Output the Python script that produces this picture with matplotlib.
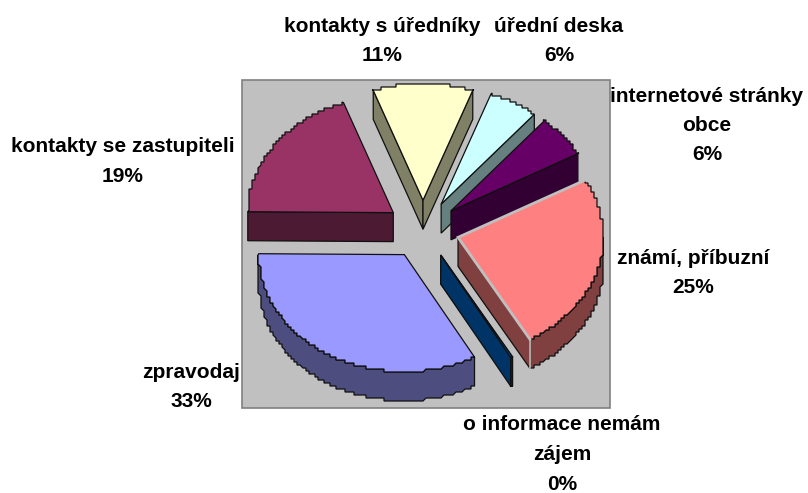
"""
Exploded 3D style pie chart: where people get their information about the municipality.
"""

import numpy as np
import matplotlib
matplotlib.use("Agg")
import matplotlib.pyplot as plt
from matplotlib.patches import Polygon, Rectangle

# Slices run clockwise, the first one starts just left of 12 o'clock
names = ["kontakty s úředníky", "úřední deska", "internetové stránky\nobce",
         "známí, příbuzní", "o informace nemám\nzájem", "zpravodaj",
         "kontakty se zastupiteli"]
values = [11.1, 5.5, 5.8, 24.9, 0.2, 33.1, 19.3]
start_angle = 340.0

top_colors = ["#FFFFCC", "#CCFFFF", "#660066", "#FF8080", "#0066CC", "#9999FF", "#993366"]
side_colors = ["#808066", "#668080", "#330033", "#804040", "#003366", "#4D4D80", "#4D1A33"]
halo_slices = ["známí, příbuzní"]

# Label centres in pixels (x, y of first line)
label_pos = [(382, 26), (559, 26), (707, 96), (693, 258), (562, 425), (191, 372), (123, 147)]

CX, CY = 423, 229.5    # pie centre
RX, RY = 145.5, 117    # ellipse radii
DEPTH = 29             # height of the extrusion
EXPLODE = 0.25
STEP = 3               # the arcs of the original are stair-stepped
EDGE = "#101010"
BACK = "#C0C0C0"


def to_xy(angle, r=1.0):
    """Clockwise angle from 12 o'clock to offset in pixels."""
    t = np.radians(angle)
    return RX * r * np.sin(t), -RY * r * np.cos(t)


def cross(a, b):
    return a[0] * b[1] - a[1] * b[0]


def draw_slice(ax, a0, a1, top, side, halo=False):
    mid = (a0 + a1) / 2
    ox, oy = to_xy(mid, EXPLODE)
    apex = np.array([CX + ox, CY + oy])

    angles = np.linspace(a0, a1, 400)
    x, y = to_xy(angles)
    arc = np.column_stack([x + apex[0], y + apex[1]])
    # snap the middle of the arc to a coarse grid for the jagged edge
    arc[1:-1] = np.round(arc[1:-1] / STEP) * STEP
    down = np.array([0, DEPTH])
    inside = arc[200] - apex

    style = dict(edgecolor=EDGE, linewidth=0.9, joinstyle="miter")
    # radial faces, only those turned to the viewer
    for end in (arc[0], arc[-1]):
        d = end - apex
        if cross(d, down) * cross(d, inside) < 0:
            face = [apex, end, end + down, apex + down]
            ax.add_patch(Polygon(face, closed=True, facecolor=side, **style))
    # outer wall, only the front half of the ellipse shows
    front = np.cos(np.radians(angles)) < 0
    if front.any():
        part = arc[front]
        wall = np.vstack([part, part[::-1] + down])
        ax.add_patch(Polygon(wall, closed=True, facecolor=side, **style))
    if halo:
        ax.plot([arc[0][0], apex[0], arc[-1][0]], [arc[0][1], apex[1], arc[-1][1]],
                color=BACK, linewidth=2.0, solid_joinstyle="miter")
        ax.plot([arc[-1][0], arc[-1][0]], [arc[-1][1], arc[-1][1] + DEPTH],
                color=BACK, linewidth=1.2)
    ax.add_patch(Polygon(np.vstack([apex, arc]), closed=True, facecolor=top, **style))


def main():
    fig = plt.figure(figsize=(8.08, 4.93), dpi=100)
    ax = fig.add_axes([0, 0, 1, 1])
    ax.set_xlim(0, 808)
    ax.set_ylim(493, 0)
    ax.axis("off")

    ax.add_patch(Rectangle((242, 80), 368, 328, facecolor=BACK,
                           edgecolor="#808080", linewidth=1.2))

    total = sum(values)
    a0 = start_angle
    for name, val, top, side in zip(names, values, top_colors, side_colors):
        a1 = a0 + val / total * 360
        draw_slice(ax, a0, a1, top, side, halo=name in halo_slices)
        a0 = a1

    for name, val, (x, y) in zip(names, values, label_pos):
        lines = name.split("\n") + [f"{round(val / total * 100)}%"]
        for i, line in enumerate(lines):
            ax.text(x, y + i * 29.5, line, ha="center", va="center", fontsize=15,
                    fontweight="bold", family="Liberation Sans", color="black")

    fig.savefig("out.png", dpi=100)


if __name__ == "__main__":
    main()
